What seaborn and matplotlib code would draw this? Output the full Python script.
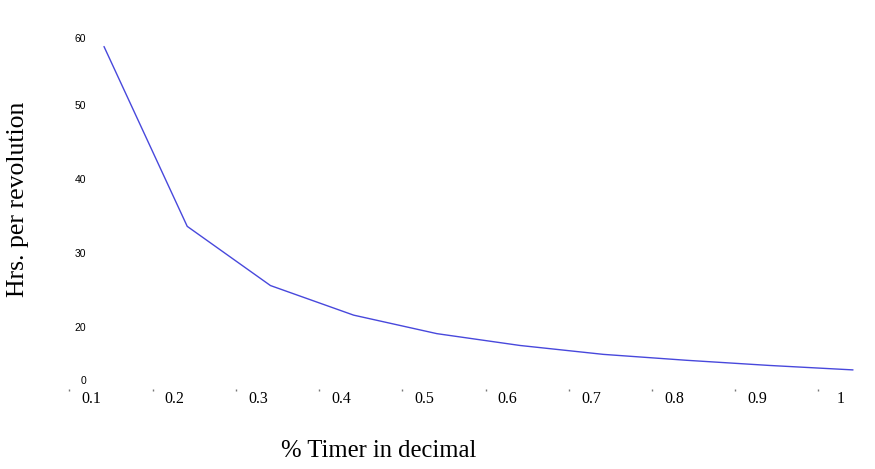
import matplotlib
matplotlib.use("Agg")
import matplotlib.pyplot as plt
import matplotlib.transforms as mtransforms
import seaborn as sns
import pandas as pd

# values
timer = [0.1, 0.2, 0.3, 0.4, 0.5, 0.6, 0.7, 0.8, 0.9, 1.0]
hrs = [57.9, 33.6, 25.6, 21.6, 19.1, 17.5, 16.3, 15.5, 14.8, 14.2]
xtick_labels = ["0.1", "0.2", "0.3", "0.4", "0.5", "0.6", "0.7", "0.8", "0.9", "1"]
# the original chart puts its y labels at slightly odd places
ytick_pos = [12.9, 20, 30, 40, 50, 59.0]
ytick_labels = ["0", "20", "30", "40", "50", "60"]

df = pd.DataFrame({"timer": timer, "hrs": hrs})

sns.set_style("white")
plt.rcParams["font.family"] = ["Liberation Serif", "DejaVu Serif"]
plt.rcParams["text.color"] = "black"
plt.rcParams["axes.labelcolor"] = "black"
plt.rcParams["xtick.color"] = "black"
plt.rcParams["ytick.color"] = "black"

fig = plt.figure(figsize=(8.75, 4.69), dpi=100)
ax = fig.add_axes([62 / 875, 1 - 389 / 469, 808 / 875, 358 / 469])

sns.lineplot(data=df, x="timer", y="hrs", color="#4848dc", linewidth=1.0, ax=ax)

ax.set_xlim(0.1 - 42 / 832.2, 1 + 17 / 832.2)
ax.set_ylim(11.62, 60)
for s in ax.spines.values():
    s.set_visible(False)

# x ticks: labels sit left of the points, little dots further left
ax.set_xticks(timer)
ax.set_xticklabels(xtick_labels, fontsize=11.5, family=["Liberation Serif"])
ax.set_xticks([t - 0.0415 for t in timer], minor=True)
ax.tick_params(axis="x", which="major", length=0, pad=1.5)
ax.tick_params(axis="x", which="minor", bottom=True, direction="out",
               length=1.2, width=1.0, color="#777777")
shift = mtransforms.ScaledTranslation(-0.125, 0, fig.dpi_scale_trans)
for lab in ax.get_xticklabels():
    lab.set_transform(lab.get_transform() + shift)

ax.set_yticks(ytick_pos)
ax.set_yticklabels(ytick_labels, fontsize=7.5, family=["Liberation Sans"])
ax.tick_params(axis="y", length=0, pad=-17.3)

ax.set_xlabel("% Timer in decimal", fontsize=17.7, va="baseline")
ax.xaxis.set_label_coords(378.5 / 875, 1 - 456.7 / 469, transform=fig.transFigure)
ax.set_ylabel("Hrs. per revolution", fontsize=18.5, va="center", ha="center")
ax.yaxis.set_label_coords(18 / 875, 1 - 199.5 / 469, transform=fig.transFigure)

fig.savefig("out.png", dpi=100)
